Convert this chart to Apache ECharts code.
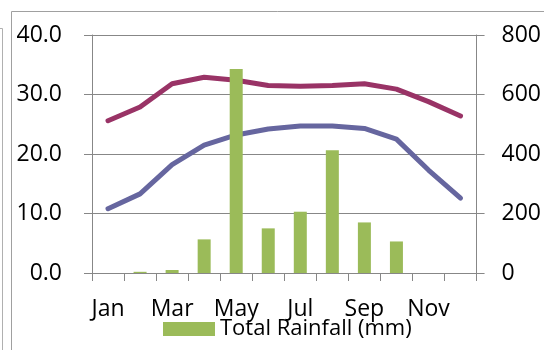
<!DOCTYPE html>
<html>
<head>
<meta charset="utf-8">
<script src="https://cdn.jsdelivr.net/npm/echarts@6/dist/echarts.min.js"></script>
<style>
  html, body { margin: 0; padding: 0; background: #fff; }
  #chart { width: 544px; height: 350px; }
</style>
</head>
<body>
<div id="chart"></div>
<script>
// Monthly climate data
const months = ['Jan', 'Feb', 'Mar', 'Apr', 'May', 'Jun', 'Jul', 'Aug', 'Sep', 'Oct', 'Nov', 'Dec'];
const maxTemp = [25.6, 27.9, 31.8, 32.9, 32.4, 31.5, 31.4, 31.5, 31.8, 30.9, 28.8, 26.4];
const minTemp = [10.8, 13.3, 18.2, 21.5, 23.2, 24.2, 24.7, 24.7, 24.3, 22.5, 17.3, 12.6];
const rainfall = [0, 4, 10, 113, 686, 150, 206, 413, 170, 106, 0, 0];
const tempTicks = [0, 10, 20, 30, 40];
const rainTicks = [0, 200, 400, 600, 800];

const FONT = 'Open Sans';
const gridColor = '#878787';

const chart = echarts.init(document.getElementById('chart'), null, { renderer: 'canvas' });

chart.setOption({
  animation: false,
  backgroundColor: '#ffffff',
  textStyle: { fontFamily: FONT },
  graphic: [
    // frame lines around the chart area
    { type: 'line', shape: { x1: 11.5, y1: 11.5, x2: 544, y2: 11.5 }, style: { stroke: '#a0a0a0', lineWidth: 1 } },
    { type: 'line', shape: { x1: 11.5, y1: 11.5, x2: 11.5, y2: 350 }, style: { stroke: '#a0a0a0', lineWidth: 1 } },
    { type: 'line', shape: { x1: 0, y1: 28.5, x2: 2.5, y2: 28.5 }, style: { stroke: '#b0b0b0', lineWidth: 1 } },
    { type: 'line', shape: { x1: 2.5, y1: 28.5, x2: 2.5, y2: 350 }, style: { stroke: '#b0b0b0', lineWidth: 1 } }
  ],
  grid: { left: 92, right: 64, top: 35, bottom: 77, containLabel: false },
  legend: {
    data: ['Total Rainfall (mm)'],
    left: 163,
    top: 318,
    itemWidth: 52,
    itemHeight: 14,
    itemGap: 5,
    icon: 'rect',
    textStyle: { fontFamily: FONT, fontSize: 22, color: '#000', padding: [0, 0, 0, 0] },
    padding: 0
  },
  xAxis: {
    type: 'category',
    data: months,
    boundaryGap: true,
    axisLine: { lineStyle: { color: gridColor, width: 1 } },
    axisTick: { show: true, interval: 0, length: 8, lineStyle: { color: gridColor } },
    axisLabel: { interval: 1, margin: 25, fontSize: 23, color: '#000', fontFamily: FONT }
  },
  yAxis: [
    {
      type: 'value',
      min: 0, max: 40, interval: 10,
      axisLine: { show: true, lineStyle: { color: gridColor, width: 1 } },
      axisTick: { show: true, length: 8, lineStyle: { color: gridColor } },
      splitLine: { show: true, lineStyle: { color: gridColor, width: 1 } },
      axisLabel: {
        margin: 30, fontSize: 23, color: '#000', fontFamily: FONT,
        formatter: v => tempTicks.includes(v) ? v.toFixed(1) : ''
      }
    },
    {
      type: 'value',
      min: 0, max: 800, interval: 200,
      position: 'right',
      axisLine: { show: true, lineStyle: { color: gridColor, width: 1 } },
      axisTick: { show: true, length: 8, lineStyle: { color: gridColor } },
      splitLine: { show: false },
      axisLabel: {
        margin: 25, fontSize: 23, color: '#000', fontFamily: FONT,
        formatter: v => rainTicks.includes(v) ? String(v) : ''
      }
    }
  ],
  series: [
    {
      name: 'Max Temperature',
      type: 'line',
      yAxisIndex: 0,
      data: maxTemp,
      symbol: 'none',
      lineStyle: { color: '#993366', width: 5, cap: 'round', join: 'round' },
      itemStyle: { color: '#993366' },
      z: 2
    },
    {
      name: 'Min Temperature',
      type: 'line',
      yAxisIndex: 0,
      data: minTemp,
      symbol: 'none',
      lineStyle: { color: '#66669f', width: 5, cap: 'round', join: 'round' },
      itemStyle: { color: '#66669f' },
      z: 2
    },
    {
      name: 'Total Rainfall (mm)',
      type: 'bar',
      yAxisIndex: 1,
      data: rainfall,
      barWidth: 13,
      itemStyle: { color: '#9bbb59' },
      z: 3
    }
  ]
});
</script>
</body>
</html>
